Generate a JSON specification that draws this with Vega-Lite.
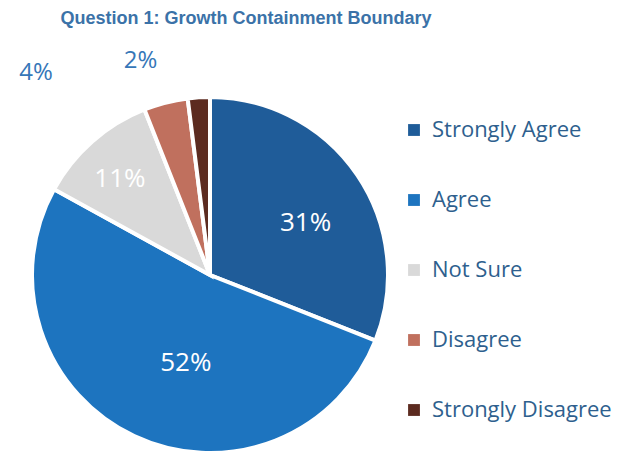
{
  "$schema": "https://vega.github.io/schema/vega-lite/v6.json",
  "autosize": {"type": "none"},
  "width": 356,
  "height": 356,
  "padding": {"left": 32, "top": 97, "right": 230, "bottom": 4},
  "background": "white",
  "title": {
    "text": "Question 1: Growth Containment Boundary",
    "font": "Liberation Sans",
    "fontSize": 18,
    "fontWeight": "bold",
    "color": "#3B72A8",
    "anchor": "middle",
    "frame": "group",
    "dx": 36,
    "offset": 21
  },
  "data": {
    "values": [
      {"Category": "Strongly Agree", "pct": 31, "order": 1, "label": "31%"},
      {"Category": "Agree", "pct": 52, "order": 2, "label": "52%"},
      {"Category": "Not Sure", "pct": 11, "order": 3, "label": "11%"},
      {"Category": "Disagree", "pct": 4, "order": 4, "label": "4%"},
      {"Category": "Strongly Disagree", "pct": 2, "order": 5, "label": "2%"}
    ]
  },
  "encoding": {
    "theta": {"field": "pct", "type": "quantitative", "stack": true},
    "order": {"field": "order", "type": "quantitative"}
  },
  "layer": [
    {
      "mark": {"type": "arc", "stroke": "white", "strokeWidth": 4, "outerRadius": 178},
      "encoding": {
        "color": {
          "field": "Category",
          "type": "nominal",
          "sort": ["Strongly Agree", "Agree", "Not Sure", "Disagree", "Strongly Disagree"],
          "scale": {
            "domain": ["Strongly Agree", "Agree", "Not Sure", "Disagree", "Strongly Disagree"],
            "range": ["#1F5C99", "#1D74BF", "#D9D9D9", "#C0705E", "#5C2B20"]
          },
          "legend": {
            "orient": "none",
            "legendX": 371,
            "legendY": 22,
            "title": null,
            "symbolType": "square",
            "symbolSize": 140,
            "symbolStrokeWidth": 0,
            "labelFont": "Open Sans",
            "labelFontSize": 22,
            "labelColor": "#2E5F8E",
            "labelLimit": 300,
            "rowPadding": 48,
            "labelOffset": 7
          }
        }
      }
    },
    {
      "mark": {"type": "text", "radius": 118, "dy": 14, "dx": -2, "font": "Open Sans", "fontSize": 26, "fill": "white"},
      "encoding": {"text": {"condition": {"test": "datum.Category == 'Strongly Agree'", "field": "label"}, "value": ""}}
    },
    {
      "mark": {"type": "text", "radius": 118, "dx": 26, "dy": -19, "font": "Open Sans", "fontSize": 26, "fill": "white"},
      "encoding": {"text": {"condition": {"test": "datum.Category == 'Agree'", "field": "label"}, "value": ""}}
    },
    {
      "mark": {"type": "text", "radius": 118, "dx": -12, "dy": -7, "font": "Open Sans", "fontSize": 26, "fill": "white"},
      "encoding": {"text": {"condition": {"test": "datum.Category == 'Not Sure'", "field": "label"}, "value": ""}}
    },
    {
      "mark": {"type": "text", "radius": 213, "dx": -121, "dy": 4, "font": "Open Sans", "fontSize": 24, "fill": "#3677B8"},
      "encoding": {"text": {"condition": {"test": "datum.Category == 'Disagree'", "field": "label"}, "value": ""}}
    },
    {
      "mark": {"type": "text", "radius": 216, "dx": -56, "dy": 2, "font": "Open Sans", "fontSize": 24, "fill": "#3677B8"},
      "encoding": {"text": {"condition": {"test": "datum.Category == 'Strongly Disagree'", "field": "label"}, "value": ""}}
    }
  ]
}
